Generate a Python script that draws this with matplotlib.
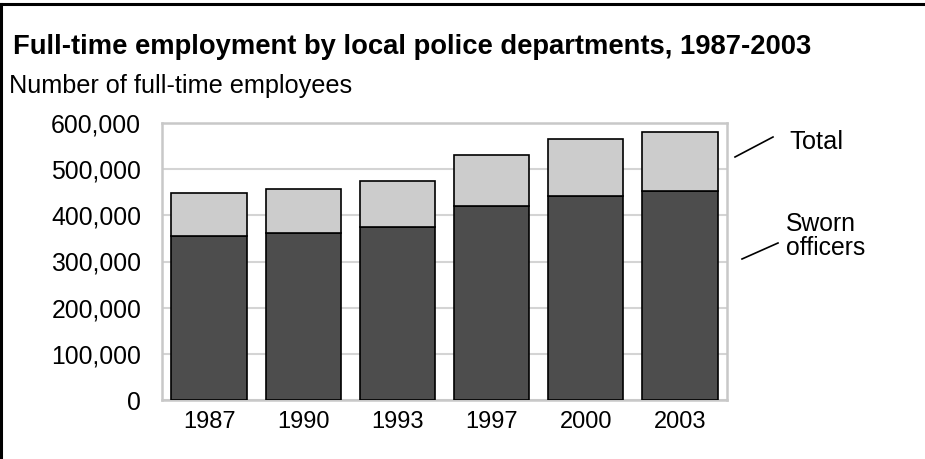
import matplotlib
matplotlib.use("Agg")
import matplotlib.pyplot as plt
from matplotlib.lines import Line2D
from matplotlib.ticker import FuncFormatter

years = ["1987", "1990", "1993", "1997", "2000", "2003"]
sworn = [355000, 362000, 374000, 420000, 441000, 452000]
total = [448000, 458000, 474000, 531000, 566000, 580000]
civilian = [t - s for t, s in zip(total, sworn)]
yticks = [0, 100000, 200000, 300000, 400000, 500000, 600000]

plt.rcParams['font.family'] = ['Liberation Sans', 'DejaVu Sans']

W, H = 925, 459
fig = plt.figure(figsize=(W / 100, H / 100), dpi=100)
ax = fig.add_axes([162 / W, 1 - 400 / H, (727 - 162) / W, (400 - 123) / H])

x = range(len(years))
ax.bar(x, sworn, width=0.8, color="#4d4d4d", edgecolor="black", linewidth=1.2, zorder=3)
ax.bar(x, civilian, bottom=sworn, width=0.8, color="#cccccc", edgecolor="black", linewidth=1.2, zorder=3)

ax.set_xlim(-0.5, len(years) - 0.5)
ax.set_ylim(0, 600000)
ax.set_yticks(yticks)
ax.yaxis.set_major_formatter(FuncFormatter(lambda v, p: f"{int(v):,}"))
ax.set_xticks(list(x))
ax.set_xticklabels(years)
ax.tick_params(axis="y", length=0, labelsize=17.8, colors="black", pad=15)
ax.tick_params(axis="x", length=0, labelsize=17, colors="black", pad=8)
ax.grid(axis="y", color="#d4d4d4", linewidth=1.5, zorder=0)
for sp in ax.spines.values():
    sp.set_color("#c8c8c8")
    sp.set_linewidth(1.8)

def px(xp, yp):
    return xp / W, 1 - yp / H

fig.text(*px(13, 54), "Full-time employment by local police departments, 1987-2003",
         fontsize=19.7, fontweight="bold", ha="left", va="baseline")
fig.text(*px(9, 93), "Number of full-time employees", fontsize=18.2, ha="left", va="baseline")

fig.text(*px(789, 149), "Total", fontsize=18.3, ha="left", va="baseline")
fig.text(*px(786, 231), "Sworn", fontsize=17.8, ha="left", va="baseline")
fig.text(*px(786, 255), "officers", fontsize=17.8, ha="left", va="baseline")

for (x0, y0, x1, y1) in [(735, 157, 773, 137), (742, 259, 778, 243)]:
    a, b = px(x0, y0)
    c, d = px(x1, y1)
    fig.add_artist(Line2D([a, c], [b, d], color="black", linewidth=1.2, transform=fig.transFigure))

# figure border (top and left)
fig.add_artist(Line2D([0, 1], [1 - 4 / H, 1 - 4 / H], color="black", linewidth=2.2, transform=fig.transFigure))
fig.add_artist(Line2D([1.2 / W, 1.2 / W], [0, 1 - 4 / H], color="black", linewidth=2.2, transform=fig.transFigure))

fig.savefig("out.png", dpi=100)
